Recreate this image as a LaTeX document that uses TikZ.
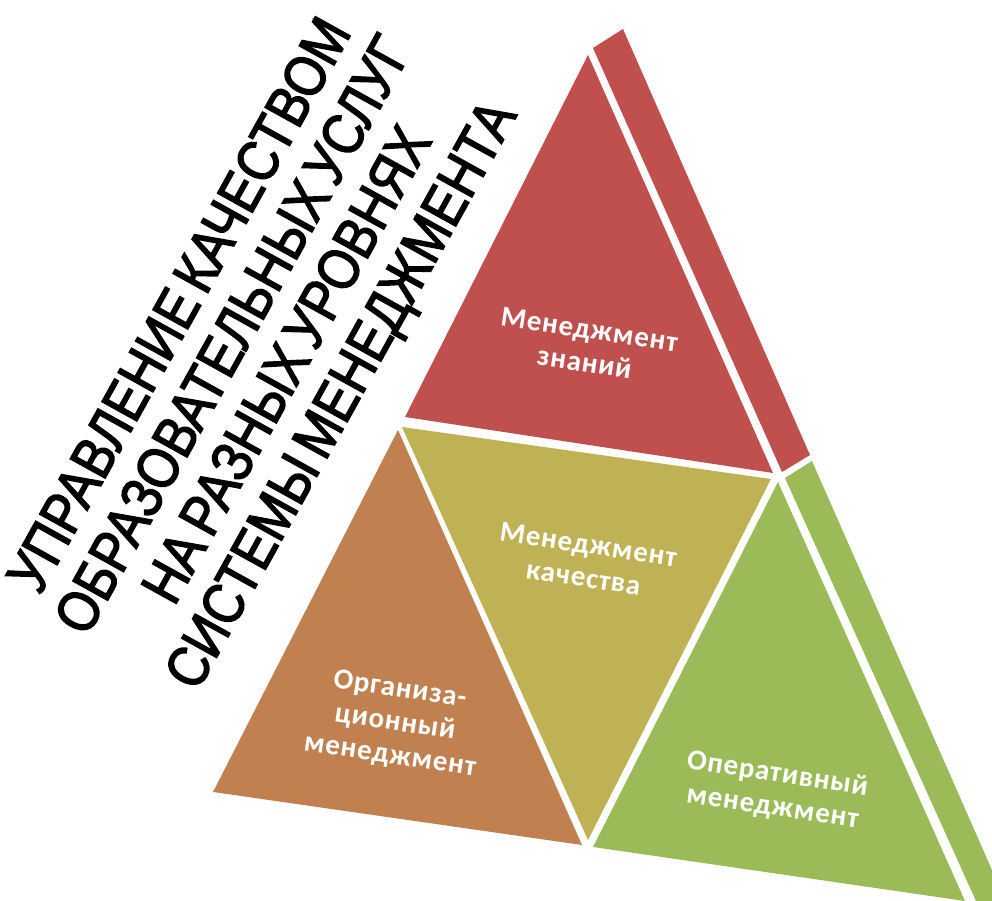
\documentclass[tikz,border=0pt]{standalone}
\usepackage{fontspec}
\setmainfont{Carlito}
\newfontfamily\titlefont[FakeStretch=0.86,FakeBold=2.5,WordSpace=0.6]{Liberation Sans}
\newfontfamily\labelfont[LetterSpace=3]{Carlito Bold}

\definecolor{knowred}{HTML}{C0504D}
\definecolor{qualolive}{HTML}{BFB254}
\definecolor{orgbrown}{HTML}{C08050}
\definecolor{opergreen}{HTML}{9BBB59}

\tikzset{
  level/.style={white, font=\labelfont\fontsize{16.5}{19}\selectfont, align=center, rotate=-8.5},
}

\begin{document}
\begin{tikzpicture}[x=0.02cm, y=-0.02cm]
  \useasboundingbox (0,0) rectangle (992,901);
  % pyramid faces
  \fill[knowred] (588,55) -- (405,417) -- (773,473) -- cycle;
  \fill[knowred] (593,48) -- (623,29) -- (810,455) -- (782,472) -- cycle;
  \fill[qualolive] (402,427) -- (771,479) -- (588,840) -- cycle;
  \fill[orgbrown] (398,430) -- (582,845) -- (213,792) -- cycle;
  \fill[opergreen] (778,482) -- (965,901) -- (593,847) -- cycle;
  \fill[opergreen] (785,478) -- (812,461) -- (992,870) -- (992,901) -- (976,901) -- cycle;
  % labels
  \node[level] (know) at (587,346) {Менеджмент\\знаний};
  \node[level] (qual) at (586,561) {Менеджмент\\качества};
  \node[level] (org) at (395,723) {Организа-\\ционный\\менеджмент};
  \node[level] (oper) at (775,791) {Оперативный\\менеджмент};
  % title
  \node[font=\titlefont\fontsize{33}{35}\selectfont, align=center, rotate=61] (title) at (264,352)
    {УПРАВЛЕНИЕ КАЧЕСТВОМ\\ОБРАЗОВАТЕЛЬНЫХ УСЛУГ\\НА РАЗНЫХ УРОВНЯХ\\СИСТЕМЫ МЕНЕДЖМЕНТА};
\end{tikzpicture}
\end{document}
